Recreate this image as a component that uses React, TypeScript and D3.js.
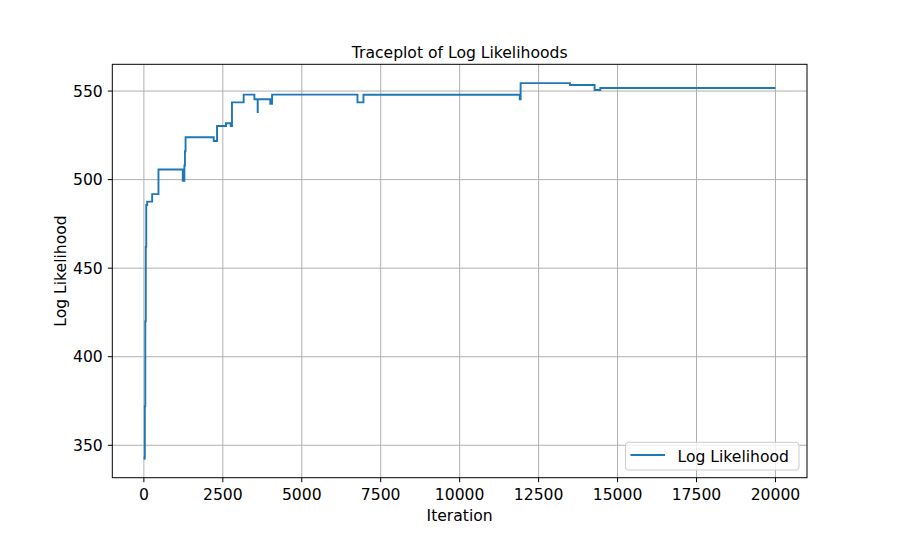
import React, { useEffect } from 'react';
import * as d3 from 'd3';

// change points of the trace (value holds until next iteration)
const iterations = [
  0, 20, 30, 45, 60, 75, 105, 262, 462, 1232, 1283, 1300, 1320, 2212, 2317,
  2600, 2750, 2790, 3160, 3500, 3603, 3606, 4002, 4060, 6764, 6953, 11903,
  11930, 13490, 14273, 14453, 19999,
];
const logLik = [
  342.3, 343, 372, 420, 462, 485.7, 487.6, 491.8, 505.7, 499.4, 508, 516, 523.9,
  521.8, 530.3, 531.8, 530.3, 543.6, 548.0, 545.4, 538.2, 545.4, 542.8, 548.0,
  543.6, 547.9, 545.3, 554.5, 553.4, 550.6, 551.7, 551.7,
];
const xTicks = [0, 2500, 5000, 7500, 10000, 12500, 15000, 17500, 20000];
const yTicks = [350, 400, 450, 500, 550];

const W = 897;
const H = 538;
const margin = { left: 112.3, right: 807, top: 64.3, bottom: 477.7 };
const FONT = 'DejaVu Sans, sans-serif';
const FS = 15.6;
const BLUE = '#1f77b4';

export default function App() {
  useEffect(() => {
    document.body.style.margin = '0';
  }, []);

  const points = iterations.map((it, i) => ({ it, v: logLik[i] }));

  // matplotlib-like 5% margins
  const [x0, x1] = d3.extent(iterations) as [number, number];
  const xPad = (x1 - x0) * 0.05;
  const [y0, y1] = d3.extent(logLik) as [number, number];
  const yPad = (y1 - y0) * 0.05;

  const x = d3.scaleLinear().domain([x0 - xPad, x1 + xPad]).range([margin.left, margin.right]);
  const y = d3.scaleLinear().domain([y0 - yPad, y1 + yPad]).range([margin.bottom, margin.top]);

  const line = d3
    .line<{ it: number; v: number }>()
    .x(d => x(d.it))
    .y(d => y(d.v))
    .curve(d3.curveStepAfter);

  const cx = (margin.left + margin.right) / 2;
  const cy = (margin.top + margin.bottom) / 2;

  // legend box (lower right)
  const lgW = 173.5;
  const lgH = 27.7;
  const lgX = margin.right - 8 - lgW;
  const lgY = margin.bottom - 7.7 - lgH;

  return (
    <svg width={W} height={H} style={{ display: 'block', background: '#fff' }} fontFamily={FONT}>
      <rect x={0} y={0} width={W} height={H} fill="#fff" />

      {/* grid */}
      {xTicks.map(t => (
        <line key={'gx' + t} x1={x(t)} x2={x(t)} y1={margin.top} y2={margin.bottom} stroke="#b0b0b0" strokeWidth={1} />
      ))}
      {yTicks.map(t => (
        <line key={'gy' + t} x1={margin.left} x2={margin.right} y1={y(t)} y2={y(t)} stroke="#b0b0b0" strokeWidth={1} />
      ))}

      <path d={line(points) || ''} fill="none" stroke={BLUE} strokeWidth={1.9} strokeLinejoin="miter" />

      {/* spines */}
      <rect
        x={margin.left}
        y={margin.top}
        width={margin.right - margin.left}
        height={margin.bottom - margin.top}
        fill="none"
        stroke="#000"
        strokeWidth={1}
      />

      {/* x ticks */}
      {xTicks.map(t => (
        <g key={'xt' + t}>
          <line x1={x(t)} x2={x(t)} y1={margin.bottom} y2={margin.bottom + 4.5} stroke="#000" strokeWidth={1} />
          <text x={x(t)} y={500} textAnchor="middle" fontSize={FS} fill="#000">
            {t}
          </text>
        </g>
      ))}
      {/* y ticks */}
      {yTicks.map(t => (
        <g key={'yt' + t}>
          <line x1={margin.left - 4.5} x2={margin.left} y1={y(t)} y2={y(t)} stroke="#000" strokeWidth={1} />
          <text x={margin.left - 9.5} y={y(t) + 5.6} textAnchor="end" fontSize={FS} fill="#000">
            {t}
          </text>
        </g>
      ))}

      <text x={cx} y={521} textAnchor="middle" fontSize={FS} fill="#000">
        Iteration
      </text>
      <text transform={`translate(66,${cy}) rotate(-90)`} textAnchor="middle" fontSize={FS} fill="#000">
        Log Likelihood
      </text>
      <text x={cx} y={57.5} textAnchor="middle" fontSize={FS} fill="#000">
        Traceplot of Log Likelihoods
      </text>

      {/* legend */}
      <rect x={lgX} y={lgY} width={lgW} height={lgH} rx={3} ry={3} fill="#fff" fillOpacity={0.8} stroke="#cccccc" strokeWidth={1} />
      <line x1={lgX + 5} x2={lgX + 39.5} y1={lgY + 12.7} y2={lgY + 12.7} stroke={BLUE} strokeWidth={1.9} />
      <text x={lgX + 52} y={lgY + 19.3} fontSize={FS} fill="#000">
        Log Likelihood
      </text>
    </svg>
  );
}
